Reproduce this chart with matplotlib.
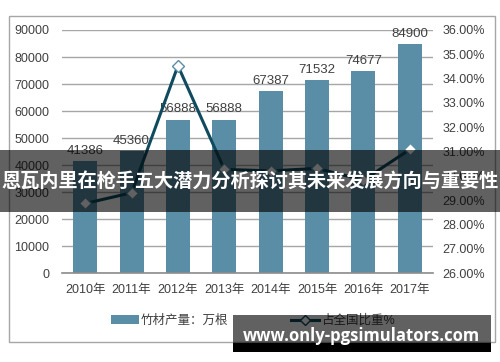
import matplotlib
matplotlib.use("Agg")
import matplotlib.pyplot as plt
from matplotlib.patches import Rectangle
from matplotlib.lines import Line2D
from matplotlib.patches import Patch

years = ["2010年", "2011年", "2012年", "2013年", "2014年", "2015年", "2016年", "2017年"]
output = [41386, 45360, 56888, 56888, 67387, 71532, 74677, 84900]
share = [28.87, 29.31, 34.53, 30.27, 30.21, 30.31, 29.83, 31.09]
left_ticks = [0, 10000, 20000, 30000, 40000, 50000, 60000, 70000, 80000, 90000]
right_ticks = [26, 27, 28, 29, 30, 31, 32, 33, 34, 35, 36]
bar_name = "竹材产量：万根"
line_name = "占全国比重%"
title = "恩瓦内里在枪手五大潜力分析探讨其未来发展方向与重要性"
watermark = "www.only-pgsimulators.com"

FAM = ["Liberation Sans", "Noto Sans CJK SC", "DejaVu Sans"]
plt.rcParams["font.family"] = FAM

W, H = 500, 362
fig = plt.figure(figsize=(5, 3.62), dpi=100)
fig.patch.set_facecolor("white")

def fx(px):
    return px / W

def fy(py):
    return 1 - py / H

# outer frame
fig.patches.append(Rectangle((fx(9), fy(342)), fx(495) - fx(9), fy(15.6) - fy(342),
                             transform=fig.transFigure, fill=False, edgecolor="#a6a6a6",
                             linewidth=1.0, zorder=0))

ax = fig.add_axes([fx(62), fy(273.3), fx(433) - fx(62), fy(30) - fy(273.3)])
ax.set_facecolor("none")
x = list(range(len(years)))
bar_color = "#5a8ea6"
bars = ax.bar(x, output, width=0.52, color=bar_color, zorder=2)
ax.set_xlim(-0.5, len(years) - 0.5)
ax.set_ylim(0, 90000)
ax.set_yticks(left_ticks)
ax.set_yticklabels([str(v) for v in left_ticks])
ax.grid(axis="y", color="#a6a6a6", linewidth=1.0, zorder=0)
ax.set_axisbelow(True)
for s in ["top", "left", "right"]:
    ax.spines[s].set_visible(False)
ax.spines["bottom"].set_color("#8c8c8c")
ax.spines["bottom"].set_linewidth(1.2)
ax.tick_params(axis="y", length=0, pad=9, labelsize=9, labelcolor="#404040")
ax.tick_params(axis="x", length=0, pad=8, labelsize=9, labelcolor="#404040")
ax.set_xticks(x)
ax.set_xticklabels(years)
for xi, v in zip(x, output):
    ax.annotate(str(v), (xi, v), xytext=(0, 3), textcoords="offset points",
                ha="center", va="bottom", fontsize=9.5, color="#404040", zorder=5)

ax2 = ax.twinx()
ax2.set_ylim(26, 36)
ax2.set_yticks(right_ticks)
ax2.set_yticklabels([f"{v:.2f}%" for v in right_ticks])
for s in ["top", "left", "right", "bottom"]:
    ax2.spines[s].set_visible(False)
ax2.tick_params(axis="y", length=0, pad=7, labelsize=9, labelcolor="#404040")
line_color = "#0f4a5e"
ax2.plot(x, share, color=line_color, linewidth=2.2, marker="D", markersize=6.5,
         markerfacecolor="white", markeredgecolor="#5a8ea6", markeredgewidth=1.0, zorder=4)

handles = [Patch(facecolor=bar_color, edgecolor="none"),
           Line2D([0], [0], color=line_color, linewidth=2.2, marker="D", markersize=5,
                  markerfacecolor="white", markeredgecolor=line_color)]
fig.legend(handles, [bar_name, line_name], loc="center", bbox_to_anchor=(fx(253), fy(321)),
           ncol=2, frameon=False, fontsize=9, handlelength=2.2, columnspacing=5,
           handletextpad=0.2, labelcolor="#404040")

# title banner
fig.patches.append(Rectangle((0, fy(212)), 1, fy(150) - fy(212), transform=fig.transFigure,
                             facecolor="black", alpha=0.62, edgecolor="none", zorder=10))
fig.text(0.5, fy(182), title, ha="center", va="center", color="white", fontsize=13.8,
         fontweight="bold", family=["Noto Sans CJK SC", "DejaVu Sans"], zorder=11)

# watermark
fig.patches.append(Rectangle((fx(233), fy(343)), fx(491) - fx(233), fy(315) - fy(343),
                             transform=fig.transFigure, facecolor="black", alpha=0.62,
                             edgecolor="none", zorder=10))
fig.patches.append(Rectangle((fx(233), fy(352)), fx(491) - fx(233), fy(343) - fy(352),
                             transform=fig.transFigure, facecolor="black",
                             edgecolor="none", zorder=10))
fig.text(fx(361), fy(336), watermark, ha="center", va="center", color="white", fontsize=12,
         fontweight="bold", family=["Open Sans", "DejaVu Sans"], zorder=11)

fig.savefig("out.png", dpi=100)
